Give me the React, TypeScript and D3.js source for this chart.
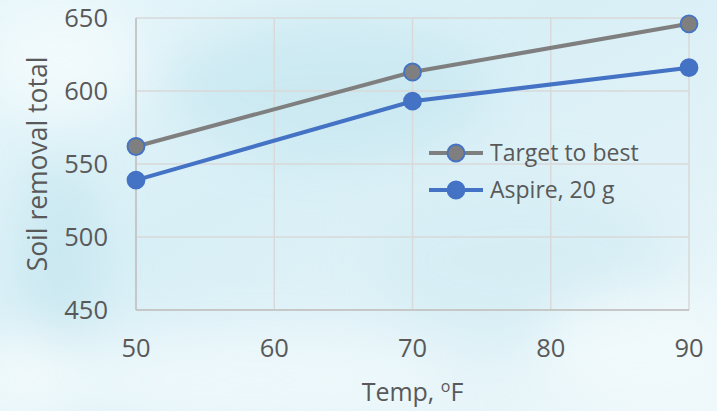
import React from "react";
import * as d3 from "d3";

const temps = [50, 70, 90];
const targetToBest = [562, 613, 646];
const aspire20g = [539, 593, 616];
const xTicks = [50, 60, 70, 80, 90];
const yTicks = [450, 500, 550, 600, 650];
const seriesNames = ["Target to best", "Aspire, 20 g"];

const W = 717;
const H = 411;
const FONT = "'Open Sans', 'Noto Sans', sans-serif";
const TXT = "#595959";
const GRAY = "#7f7f7f";
const BLUE = "#4472c4";

export default function App() {
  const x = d3.scaleLinear().domain([50, 90]).range([136, 689]);
  const y = d3.scaleLinear().domain([450, 650]).range([310, 18]);
  const line = d3
    .line<number>()
    .x((_, i) => x(temps[i]))
    .y((d) => y(d));

  return (
    <svg width={W} height={H} style={{ position: "absolute", left: 0, top: 0 }}>
      <defs>
        <linearGradient id="bg" x1="0" y1="0" x2="1" y2="1">
          <stop offset="0" stopColor="#e6f6fa" />
          <stop offset="0.4" stopColor="#d8eff6" />
          <stop offset="0.75" stopColor="#e3f3f8" />
          <stop offset="1" stopColor="#eef8fb" />
        </linearGradient>
        <filter id="blur" x="-50%" y="-50%" width="200%" height="200%">
          <feGaussianBlur stdDeviation="25" />
        </filter>
      </defs>
      <rect x={0} y={0} width={W} height={H} fill="url(#bg)" />
      <g filter="url(#blur)" opacity={0.8}>
        <ellipse cx={60} cy={60} rx={80} ry={60} fill="#f4fbfd" />
        <ellipse cx={330} cy={90} rx={160} ry={70} fill="#c9e8f1" />
        <ellipse cx={60} cy={250} rx={40} ry={90} fill="#c6e6ef" />
        <ellipse cx={520} cy={260} rx={150} ry={80} fill="#d4edf4" />
        <ellipse cx={250} cy={380} rx={200} ry={50} fill="#f0f9fc" />
        <ellipse cx={640} cy={350} rx={100} ry={60} fill="#f2fafc" />
        <ellipse cx={20} cy={380} rx={60} ry={50} fill="#f6fcfd" />
      </g>

      {/* gridlines */}
      {yTicks.map((t) => (
        <line key={"gy" + t} x1={x(50)} x2={x(90)} y1={y(t)} y2={y(t)} stroke="#d9d9d9" strokeWidth={1.5} />
      ))}
      {xTicks.map((t) => (
        <line key={"gx" + t} x1={x(t)} x2={x(t)} y1={y(450)} y2={y(650)} stroke="#d9d9d9" strokeWidth={1.5} />
      ))}
      <line x1={x(50)} x2={x(50)} y1={y(450)} y2={y(650)} stroke="#bfbfbf" strokeWidth={1.5} />
      <line x1={x(50)} x2={x(90)} y1={y(450)} y2={y(450)} stroke="#bfbfbf" strokeWidth={1.5} />

      {/* tick labels */}
      {yTicks.map((t) => (
        <text key={"ty" + t} x={108} y={y(t) + 9} textAnchor="end" fontFamily={FONT} fontSize={25.5} fill={TXT}>
          {t}
        </text>
      ))}
      {xTicks.map((t) => (
        <text key={"tx" + t} x={x(t)} y={357} textAnchor="middle" fontFamily={FONT} fontSize={25.5} fill={TXT}>
          {t}
        </text>
      ))}

      <text transform={`translate(38,${(y(450) + y(650)) / 2}) rotate(-90)`} dy="0.35em" textAnchor="middle" fontFamily={FONT} fontSize={26.5} fill={TXT}>
        Soil removal total
      </text>
      <text x={(x(50) + x(90)) / 2} y={401} textAnchor="middle" fontFamily={FONT} fontSize={25} fill={TXT}>
        Temp, <tspan fontSize={16} dy={-9}>o</tspan><tspan dy={9}>F</tspan>
      </text>

      {/* series */}
      <path d={line(targetToBest) || ""} fill="none" stroke={GRAY} strokeWidth={4} />
      <path d={line(aspire20g) || ""} fill="none" stroke={BLUE} strokeWidth={4} />
      {targetToBest.map((v, i) => (
        <circle key={"m1" + i} cx={x(temps[i])} cy={y(v)} r={8.5} fill={GRAY} stroke={BLUE} strokeWidth={1.8} />
      ))}
      {aspire20g.map((v, i) => (
        <circle key={"m2" + i} cx={x(temps[i])} cy={y(v)} r={8.5} fill={BLUE} stroke={BLUE} strokeWidth={1.8} />
      ))}

      {/* legend */}
      {seriesNames.map((n, i) => {
        const ly = 153 + i * 37;
        const color = i === 0 ? GRAY : BLUE;
        return (
          <g key={n}>
            <line x1={429} x2={483} y1={ly} y2={ly} stroke={color} strokeWidth={4} />
            <circle cx={456} cy={ly} r={8.5} fill={color} stroke={BLUE} strokeWidth={1.8} />
            <text x={490} y={ly} dy="0.35em" fontFamily={FONT} fontSize={23} fill={TXT}>
              {n}
            </text>
          </g>
        );
      })}
    </svg>
  );
}
